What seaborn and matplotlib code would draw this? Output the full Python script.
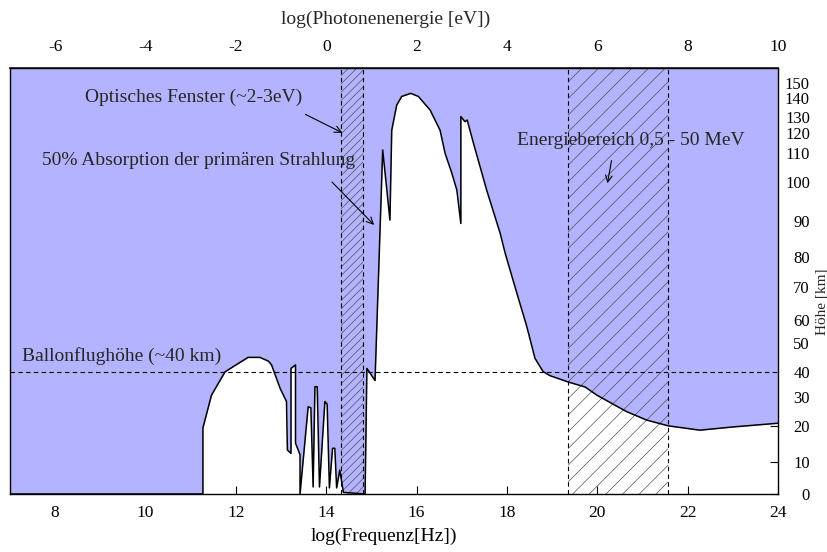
import numpy as np
import pandas as pd
import matplotlib
matplotlib.use("Agg")
import matplotlib.pyplot as plt
import seaborn as sns

# ---------------- data ----------------
# absorption height curve (log frequency [Hz] vs height [km])
freq_log = [7.0, 11.27, 11.27, 11.46, 11.76, 11.94, 12.27, 12.53, 12.72, 12.79,
            12.98, 13.12, 13.14, 13.22, 13.22, 13.32, 13.32, 13.42, 13.42, 13.60,
            13.66, 13.71, 13.75, 13.80, 13.85, 13.97, 14.02, 14.07, 14.14, 14.19,
            14.23, 14.30, 14.38, 14.86, 14.90, 15.08, 15.25, 15.41, 15.45, 15.56,
            15.67, 15.87, 16.04, 16.30, 16.52, 16.63, 16.78, 16.89, 16.98, 16.98,
            17.07, 17.12, 17.26, 17.55, 17.85, 17.96, 18.22, 18.44, 18.62, 18.80,
            18.95, 19.36, 19.73, 19.99, 20.65, 21.09, 21.57, 22.27, 23.01, 24.0]
hoehe_km = [0, 0, 19.4, 30.7, 40.1, 41.9, 45.1, 45.1, 43.8, 42.5,
            33.4, 28.4, 13.3, 12.4, 41.3, 42.5, 15.2, 12.0, 0, 26.6,
            26.2, 2.2, 34.1, 34.1, 2.2, 28.4, 27.5, 1.9, 13.8, 13.8,
            1.9, 7.5, 0.5, 0, 41.3, 36.6, 111.6, 90.2, 121.8, 136.2,
            140.9, 143.0, 140.9, 133.6, 121.8, 110.0, 103.1, 98.0, 89.3, 130.2,
            127.1, 128.1, 114.9, 98.0, 86.6, 81.1, 68.1, 57.2, 44.8, 40.2,
            38.6, 36.0, 34.0, 30.7, 24.9, 22.0, 20.0, 18.8, 19.7, 20.9]

# height axis: tick heights and their (non-linear) axis positions
axis_km = [0, 10, 20, 30, 40, 50, 60, 70, 80, 90, 100, 110, 120, 130, 140, 150, 160]
axis_pos = [0, 0.075, 0.160, 0.228, 0.286, 0.354, 0.408, 0.486, 0.556, 0.641,
            0.732, 0.800, 0.847, 0.885, 0.930, 0.965, 1.0]
height_ticks = [0, 10, 20, 30, 40, 50, 60, 70, 80, 90, 100, 110, 120, 130, 140, 150]

freq_ticks = [8, 10, 12, 14, 16, 18, 20, 22, 24]
energy_ticks = [-6, -4, -2, 0, 2, 4, 6, 8, 10]

balloon_km = 40
optical_window = (14.33, 14.82)
energy_window = (19.36, 21.57)

# ---------------- style ----------------
sns.set_theme(style="white")
plt.rcParams["font.family"] = ["Liberation Serif", "DejaVu Serif"]
plt.rcParams["axes.unicode_minus"] = False
plt.rcParams["hatch.linewidth"] = 0.45

BLUE = "#b3b3ff"

fig = plt.figure(figsize=(8.28, 5.52), dpi=100)
ax = fig.add_axes([10 / 828, 58 / 552, 768 / 828, 426 / 552])


def fwd(v):
    return np.interp(v, axis_km, axis_pos)


def inv(v):
    return np.interp(v, axis_pos, axis_km)


ax.set_yscale("function", functions=(fwd, inv))

df = pd.DataFrame({"freq": freq_log, "hoehe": hoehe_km})

ax.fill_between(df["freq"], df["hoehe"], 160, color=BLUE, lw=0, zorder=1)

dash = (0, (4, 3))
# hatched bands (hatch in grey, outlines dashed black)
ax.axvspan(*optical_window, fill=False, hatch="////", edgecolor="#444444",
           lw=0, zorder=2)
ax.axvspan(*energy_window, fill=False, hatch="//", edgecolor="#444444",
           lw=0, zorder=2)
for xe in (*optical_window, *energy_window):
    ax.axvline(xe, color="black", ls=dash, lw=0.8, zorder=3)
ax.axhline(balloon_km, color="black", ls=dash, lw=0.8, zorder=3)

sns.lineplot(data=df, x="freq", y="hoehe", sort=False, estimator=None,
             color="black", lw=1.1, ax=ax, zorder=4)

ax.set_xlim(7, 24)
ax.set_ylim(0, 160)

for s in ax.spines.values():
    s.set_color("black")
    s.set_linewidth(1.0)

ax.set_xticks(freq_ticks)
ax.set_xticklabels([str(t) for t in freq_ticks])
ax.tick_params(axis="x", direction="in", length=6, width=0.8, bottom=True,
               top=False, labelsize=12.5, pad=8, colors="black")
ax.set_xlabel("log(Frequenz[Hz])", fontsize=14, labelpad=5, color="black")
ax.xaxis.label.set_x((384 - 10) / 768)

ax.yaxis.tick_right()
ax.set_yticks(height_ticks)
ax.set_yticklabels([str(t) for t in height_ticks])
ax.tick_params(axis="y", direction="in", length=6, width=0.8, right=True,
               left=False, labelsize=12, pad=23, colors="black")
for lbl in ax.get_yticklabels():
    lbl.set_horizontalalignment("right")
ax.set_ylabel("")
ax.text((822 - 10) / 768, 0.451, "Höhe [km]", rotation=90, ha="center",
        va="center", fontsize=11, transform=ax.transAxes)

sec = ax.secondary_xaxis("top", functions=(lambda v: v - 14, lambda v: v + 14))
sec.set_xticks(energy_ticks)
sec.set_xticklabels([str(t) for t in energy_ticks])
sec.tick_params(direction="in", length=6, width=0.8, labelsize=12.5, pad=9,
                colors="black")
sec.set_xlabel("log(Photonenenergie [eV])", fontsize=14, labelpad=11)
sec.xaxis.label.set_x((386 - 10) / 768)

# annotations (axes-fraction positions)
fs = 14
ax.text(0.098, 0.932, "Optisches Fenster (~2-3eV)", fontsize=fs,
        ha="left", va="center", transform=ax.transAxes, zorder=5)
ax.text(0.042, 0.784, "50% Absorption der primären Strahlung", fontsize=fs,
        ha="left", va="center", transform=ax.transAxes, zorder=5)
ax.text(0.0156, 0.324, "Ballonflughöhe (~40 km)", fontsize=fs,
        ha="left", va="center", transform=ax.transAxes, zorder=5)
ax.text(0.660, 0.829, "Energiebereich 0,5 - 50 MeV", fontsize=fs,
        ha="left", va="center", transform=ax.transAxes, zorder=5)

arrow = dict(arrowstyle="->", color="black", lw=0.8)
ax.annotate("", xy=(0.436, 0.845), xytext=(0.3815, 0.894),
            xycoords="axes fraction", arrowprops=arrow, zorder=5)
ax.annotate("", xy=(0.4766, 0.627), xytext=(0.4167, 0.737),
            xycoords="axes fraction", arrowprops=arrow, zorder=5)
ax.annotate("", xy=(0.7773, 0.723), xytext=(0.7839, 0.789),
            xycoords="axes fraction", arrowprops=arrow, zorder=5)

fig.savefig("out.png", dpi=100)
